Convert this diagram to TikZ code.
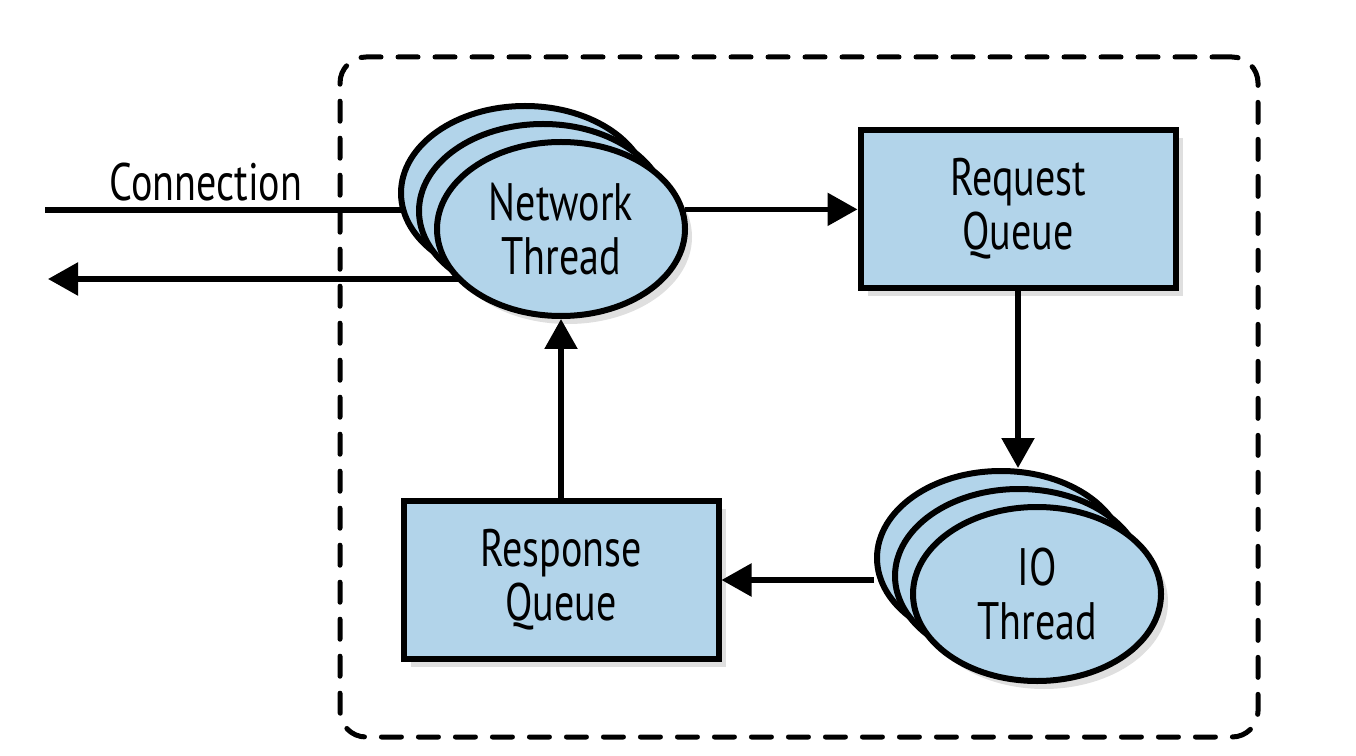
\documentclass[tikz,border=0pt]{standalone}
\usepackage{fontspec}
\setmainfont[FakeStretch=0.76]{PT Sans}
\usepackage{tikz}
\usetikzlibrary{arrows.meta,positioning,shapes.geometric,shadows,backgrounds}
\definecolor{kqblue}{RGB}{178,212,234}
\colorlet{kqline}{black}
\tikzset{
  kqshape/.style={
    draw=kqline,
    fill=kqblue,
    line width=0.6mm,
    align=center,
    inner sep=0pt,
    font=\fontsize{15}{15.3}\selectfont,
    drop shadow={shadow xshift=0.7mm,shadow yshift=-0.8mm,opacity=0.25}
  },
  kqqueue/.style={kqshape,rectangle,minimum width=31.5mm,minimum height=15.8mm},
  kqthread/.style={kqshape,ellipse,minimum width=24.8mm,minimum height=17.4mm},
  kqframe/.style={draw=kqline,line width=0.5mm,dash pattern=on 2mm off 1.7mm,
                  line cap=round,rounded corners=2.6mm},
  kqwire/.style={draw=kqline,line width=0.55mm},
  kqflow/.style={kqwire,-{Triangle[length=3mm,width=3.2mm]}},
  kqlabel/.style={font=\fontsize{15}{15.3}\selectfont,inner sep=0pt}
}
\begin{document}
\begin{tikzpicture}[x=0.1mm,y=-0.1mm]
  \useasboundingbox (0,0) rectangle (1356,756);

  % broker boundary
  \node[kqframe,minimum width=91.8mm,minimum height=68mm] (broker) at (799,397) {};

  % stacked thread pools
  \node[kqthread] (nt3) at (525,193) {};
  \node[kqthread] (nt2) at (543,211) {};
  \node[kqthread] (nt) at (561,229) {Network\\Thread};

  \node[kqthread] (io3) at (1001,558) {};
  \node[kqthread] (io2) at (1019,576) {};
  \node[kqthread] (io) at (1037,594) {IO\\Thread};

  % queues
  \node[kqqueue] (reqq) at (1018,209) {Request\\Queue};
  \node[kqqueue] (rspq) at (561,580) {Response\\Queue};

  % client side
  \coordinate (cin) at (45,210);
  \coordinate (cout) at (48,279);
  \node[kqlabel,anchor=base] (conn) at (206,201) {Connection};

  \begin{scope}[on background layer]
    \draw[kqwire] (cin) -- (cin -| nt3);
    \draw[kqflow] (cout -| nt) -- (cout);
  \end{scope}

  \draw[kqflow] (nt.9) -- (nt.9 -| reqq.west);
  \draw[kqflow] (reqq.south) -- (reqq.south |- io3.north);
  \draw[kqflow] (io3.west |- rspq.east) -- (rspq.east);
  \draw[kqflow] (rspq.north) -- (nt.south);
\end{tikzpicture}
\end{document}
